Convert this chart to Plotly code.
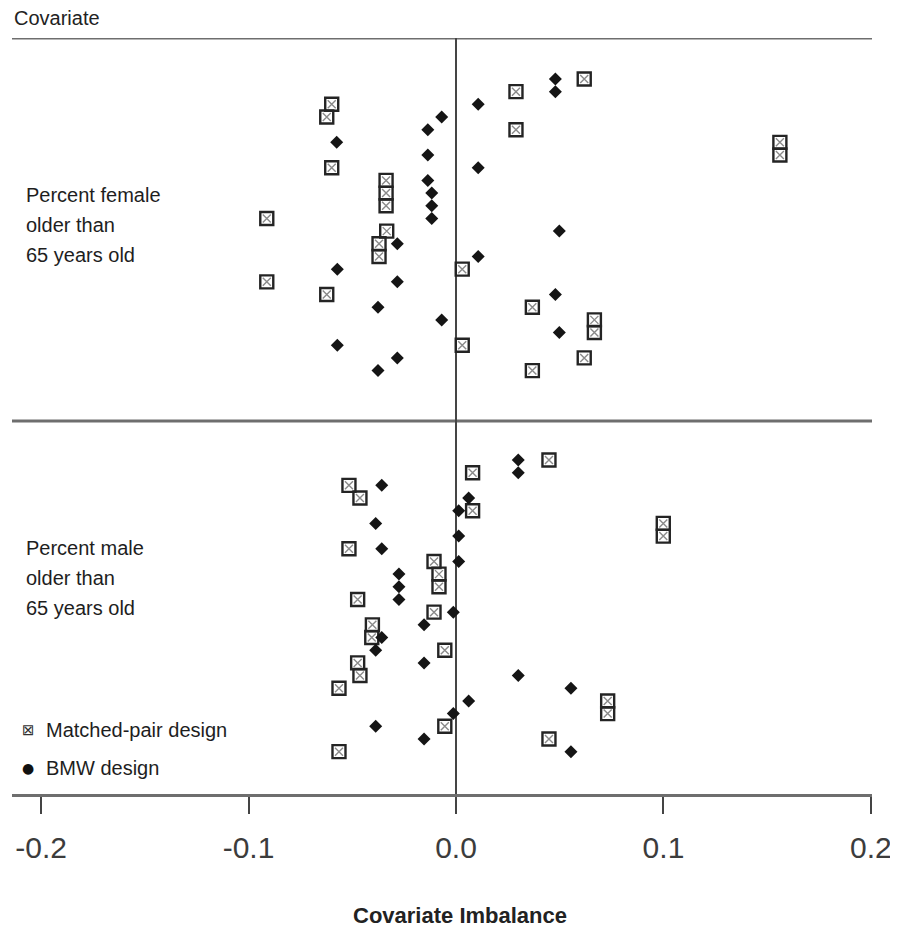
import plotly.graph_objects as go

# ---- data ----
groups = ["Percent female older than 65 years old", "Percent male older than 65 years old"]
group_label_lines = [["Percent female", "older than", "65 years old"],
                     ["Percent male", "older than", "65 years old"]]

# Covariate imbalance per replicate row (24 rows per covariate), top to bottom
female_matched = [0.0618, 0.0289, -0.0599, -0.0623, 0.0289, 0.1561, 0.1561, -0.0599,
                  -0.0337, -0.0337, -0.0337, -0.0912, -0.0334, -0.0371, -0.0371, 0.0030,
                  -0.0912, -0.0623, 0.0368, 0.0667, 0.0667, 0.0030, 0.0618, 0.0368]
female_bmw = [0.0479, 0.0479, 0.0107, -0.0069, -0.0136, -0.0575, -0.0136, 0.0107,
              -0.0136, -0.0117, -0.0117, -0.0117, 0.0498, -0.0283, 0.0107, -0.0572,
              -0.0283, 0.0479, -0.0376, -0.0069, 0.0498, -0.0572, -0.0283, -0.0376]
male_matched = [0.0448, 0.0080, -0.0516, -0.0463, 0.0080, 0.0999, 0.0999, -0.0516,
                -0.0106, -0.0082, -0.0082, -0.0474, -0.0106, -0.0403, -0.0406, -0.0054,
                -0.0474, -0.0463, -0.0564, 0.0731, 0.0731, -0.0054, 0.0448, -0.0564]
male_bmw = [0.0300, 0.0300, -0.0358, 0.0061, 0.0013, -0.0387, 0.0013, -0.0358,
            0.0013, -0.0275, -0.0275, -0.0275, -0.0013, -0.0154, -0.0358, -0.0387,
            -0.0154, 0.0300, 0.0554, 0.0061, -0.0013, -0.0387, -0.0154, 0.0554]

x_ticks = [-0.2, -0.1, 0.0, 0.1, 0.2]
x_tick_labels = ["-0.2", "-0.1", "0.0", "0.1", "0.2"]
series_names = ["Matched-pair design", "BMW design"]

# ---- layout of rows (row units) ----
group_first_row = [3.23, 33.28]
separator_pos = 30.2
y_bottom = 59.62

def rows(n, start):
    return [start + i for i in range(n)]

y_f = rows(len(female_matched), group_first_row[0])
y_m = rows(len(male_matched), group_first_row[1])

mx = female_matched + male_matched
my = y_f + y_m
bx = female_bmw + male_bmw
by = y_f + y_m

fig = go.Figure()
fig.add_trace(go.Scatter(x=mx, y=my, mode="markers", name=series_names[0], showlegend=False,
                         marker=dict(symbol="square-open", size=13, color="#242424",
                                     line=dict(width=2.4, color="#242424"))))
fig.add_trace(go.Scatter(x=mx, y=my, mode="markers", showlegend=False, hoverinfo="skip",
                         marker=dict(symbol="x-thin-open", size=8, color="#8a8a8a",
                                     line=dict(width=1.4, color="#8a8a8a"))))
fig.add_trace(go.Scatter(x=bx, y=by, mode="markers", name=series_names[1], showlegend=False,
                         marker=dict(symbol="diamond", size=10, color="#151515",
                                     line=dict(width=0))))

# page has an 8px body margin; figure coordinates = page coordinates - 8
OFF = 8
W, H = 898 - OFF, 937 - 2 * OFF
L, T = 12 - OFF, 38 - OFF
pw, ph = 860, 756
R = W - L - pw
B = H - T - ph

def px(xp):
    return (xp - OFF - L) / pw

def py(yp):
    return (T + ph - (yp - OFF)) / ph

shapes = [
    dict(type="line", xref="paper", yref="y", x0=0, x1=1, y0=0, y1=0,
         line=dict(color="#6e6e6e", width=3), layer="below"),
    dict(type="line", xref="paper", yref="y", x0=0, x1=1, y0=separator_pos, y1=separator_pos,
         line=dict(color="#6e6e6e", width=3), layer="below"),
    dict(type="line", xref="x", yref="y", x0=0, x1=0, y0=0, y1=y_bottom,
         line=dict(color="#454545", width=2), layer="below"),
]

base_font = "Liberation Sans, Arial, sans-serif"
ann = [dict(text="Covariate", xref="paper", yref="paper", x=px(12), y=py(18),
            xanchor="left", yanchor="middle", showarrow=False,
            font=dict(family=base_font, size=20, color="#222"))]
label_centers = [[195, 225, 255], [548, 578, 608]]
for lines, ys in zip(group_label_lines, label_centers):
    for t, yy in zip(lines, ys):
        ann.append(dict(text=t, xref="paper", yref="paper", x=px(24), y=py(yy),
                        xanchor="left", yanchor="middle", showarrow=False,
                        font=dict(family=base_font, size=20, color="#1e1e1e")))
# legend
ann.append(dict(text="⊠", xref="paper", yref="paper", x=px(28), y=py(730),
                xanchor="center", yanchor="middle", showarrow=False,
                font=dict(family="DejaVu Sans", size=15, color="#333")))
ann.append(dict(text=series_names[0], xref="paper", yref="paper", x=px(44), y=py(730),
                xanchor="left", yanchor="middle", showarrow=False,
                font=dict(family=base_font, size=20, color="#1e1e1e")))
ann.append(dict(text="●", xref="paper", yref="paper", x=px(28), y=py(768),
                xanchor="center", yanchor="middle", showarrow=False,
                font=dict(family="DejaVu Sans", size=14, color="#111")))
ann.append(dict(text=series_names[1], xref="paper", yref="paper", x=px(44), y=py(768),
                xanchor="left", yanchor="middle", showarrow=False,
                font=dict(family=base_font, size=20, color="#1e1e1e")))
# axis title
ann.append(dict(text="<b>Covariate Imbalance</b>", xref="paper", yref="paper", x=px(460), y=py(915),
                xanchor="center", yanchor="middle", showarrow=False,
                font=dict(family=base_font, size=22, color="#222")))

fig.update_layout(
    width=W, height=H,
    margin=dict(l=L, r=R, t=T, b=B),
    paper_bgcolor="white", plot_bgcolor="white",
    showlegend=False,
    shapes=shapes, annotations=ann,
    xaxis=dict(range=[-0.2140, 0.2005], tickvals=x_ticks, ticktext=x_tick_labels,
               showgrid=False, zeroline=False, showline=True, linecolor="#6e6e6e", linewidth=3,
               ticks="outside", ticklen=17, tickwidth=1.5, tickcolor="#444",
               ticklabelstandoff=8, ticklabeloverflow="allow",
               tickfont=dict(family=base_font, size=30, color="#3c3c3c")),
    yaxis=dict(range=[y_bottom, 0], visible=False, showgrid=False, zeroline=False),
)

fig.write_html("out.html")
